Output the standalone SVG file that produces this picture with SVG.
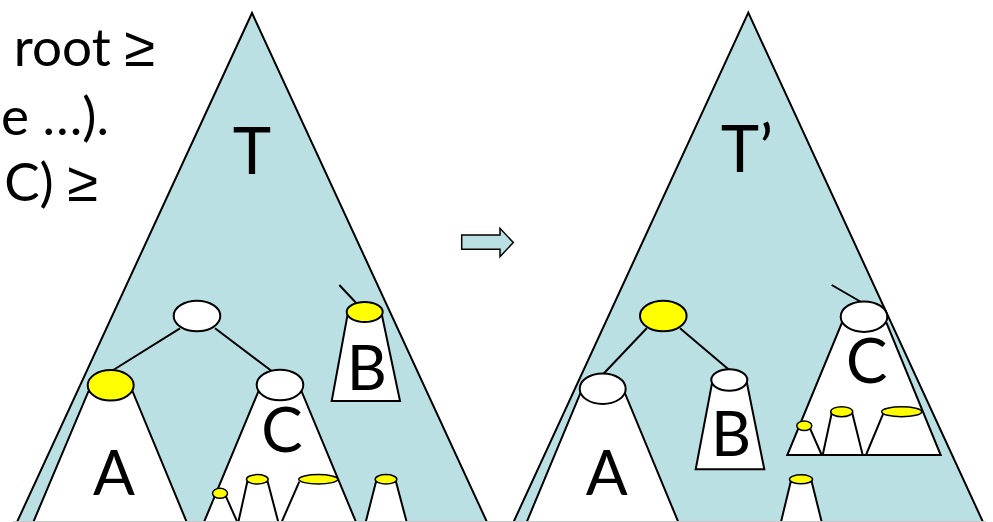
<svg xmlns="http://www.w3.org/2000/svg" width="993" height="522" viewBox="0 0 993 522">
<style>
.bg{fill:#bbe0e3;stroke:#000;stroke-width:2;stroke-linejoin:miter}
.sub{fill:#fff;stroke:#000;stroke-width:2;stroke-linejoin:miter}
.ln{fill:none;stroke:#000;stroke-width:2}
.wn{fill:#fff;stroke:#000;stroke-width:2}
.yn{fill:#ffff00;stroke:#000;stroke-width:2}
.ys{fill:#ffff00;stroke:#000;stroke-width:1.5}
.lbl{font-family:Lato,"Liberation Sans",sans-serif;font-size:62px;fill:#000;text-anchor:middle}
.txt{font-family:Lato,"Liberation Sans",sans-serif;font-size:53px;fill:#000;text-anchor:end}
.ge{font-family:"Liberation Sans",sans-serif;font-size:56px}
</style>
<rect width="993" height="522" fill="#fff"/>
<g id="caption">
<text class="txt" x="155" y="66">root <tspan class="ge">≥</tspan></text>
<text class="txt" x="109" y="135">e …).</text>
<text class="txt" x="98" y="201">C) <tspan class="ge">≥</tspan></text>
</g>
<g id="tree-T">
<path class="bg" d="M16.1,524 L252,13 L487.9,524"/>
<text class="lbl" x="252" y="174" style="font-size:65px">T</text>
</g>
<g id="tree-T-prime">
<path class="bg" d="M512.6,524 L748.3,12.7 L983.9,524"/>
<text class="lbl" x="747" y="172" style="font-size:65px">T’</text>
</g>
<g id="arrow">
<path class="bg" style="stroke-width:1.5" d="M461.7,235 L500,235 L500,228.3 L513.3,242.5 L500,256.7 L500,249.3 L461.7,249.3 Z"/>
</g>
<g id="connectors">
<line class="ln" x1="180" y1="328.3" x2="111.7" y2="371"/>
<line class="ln" x1="215" y1="328.3" x2="271.7" y2="371"/>
<line class="ln" x1="339.3" y1="285" x2="356.7" y2="303.5"/>
<line class="ln" x1="646.7" y1="328.3" x2="603.3" y2="374"/>
<line class="ln" x1="680" y1="328.3" x2="729.3" y2="370"/>
<line class="ln" x1="831.7" y1="285" x2="862" y2="302.5"/>
</g>
<g id="left-A">
<path class="sub" d="M32.5,524 L88.3,391.7 L132.7,391.7 L187.5,524"/>
<ellipse class="yn" cx="110.7" cy="385.3" rx="23" ry="15.3"/>
<text class="lbl" x="114" y="495">A</text>
</g>
<g id="left-C">
<path class="sub" d="M203.2,524 L258.3,391.7 L301.7,391.7 L356.8,524"/>
<path class="ln" d="M226,496.7 L238.2,524"/>
<path class="ln" d="M237.9,524 L247.3,481.7 L267.7,481.7 L278.8,524"/>
<path class="ln" d="M280.8,524 L299.3,481.7"/>
<ellipse class="ys" cx="220" cy="493.3" rx="7.5" ry="5"/>
<ellipse class="ys" cx="257.3" cy="479.3" rx="10.8" ry="4.7"/>
<ellipse class="ys" cx="318.3" cy="479.3" rx="19.5" ry="4.7"/>
<ellipse class="wn" cx="280" cy="385" rx="23.3" ry="15.3"/>
<text class="lbl" x="282" y="452">C</text>
</g>
<g id="left-root">
<ellipse class="wn" cx="197" cy="316" rx="23.3" ry="15.3"/>
</g>
<g id="left-small">
<path class="sub" d="M365.2,524 L376,481.7 L396,481.7 L407.2,524"/>
<ellipse class="ys" cx="386" cy="479.3" rx="10.8" ry="4.7"/>
</g>
<g id="left-B">
<path class="sub" d="M347.7,314 L381.7,314 L400,401 L331.7,401 Z"/>
<ellipse class="yn" cx="364.7" cy="312" rx="18" ry="10"/>
<text class="lbl" x="366.7" y="390">B</text>
</g>
<g id="right-A">
<path class="sub" d="M525.9,524 L581,391.7 L624.3,391.7 L679.1,524"/>
<ellipse class="wn" cx="602.7" cy="388.7" rx="23" ry="15.3"/>
<text class="lbl" x="606.7" y="495">A</text>
</g>
<g id="right-root">
<ellipse class="yn" cx="663.3" cy="316" rx="23.3" ry="15.3"/>
</g>
<g id="right-B">
<path class="sub" d="M712.3,381.7 L746.7,381.7 L764.3,469.3 L695.7,469.3 Z"/>
<ellipse class="wn" cx="729.3" cy="380" rx="18" ry="10.7"/>
<text class="lbl" x="731" y="456">B</text>
</g>
<g id="right-C">
<path class="sub" d="M841.7,323.3 L886.7,323.3 L940.7,455 L787.3,455 Z"/>
<path class="ln" d="M810,428.3 L821.7,455"/>
<path class="ln" d="M822.7,455 L831.7,413.3 L852.3,413.3 L862.7,455"/>
<path class="ln" d="M866,455 L883.3,413.3"/>
<ellipse class="ys" cx="804.3" cy="425.7" rx="7.5" ry="4.8"/>
<ellipse class="ys" cx="841.7" cy="411.7" rx="11" ry="5"/>
<ellipse class="ys" cx="901.7" cy="411.7" rx="20" ry="5"/>
<ellipse class="wn" cx="864" cy="316.7" rx="23.3" ry="15.2"/>
<text class="lbl" x="866.7" y="383">C</text>
</g>
<g id="right-small">
<path class="sub" d="M780.5,524 L790.7,481.7 L811.7,481.7 L822.2,524"/>
<ellipse class="ys" cx="801" cy="479.3" rx="11.5" ry="4.5"/>
</g>
<line x1="13" y1="521.5" x2="986" y2="521.5" stroke="#c8c8c8" stroke-width="1"/>
</svg>
